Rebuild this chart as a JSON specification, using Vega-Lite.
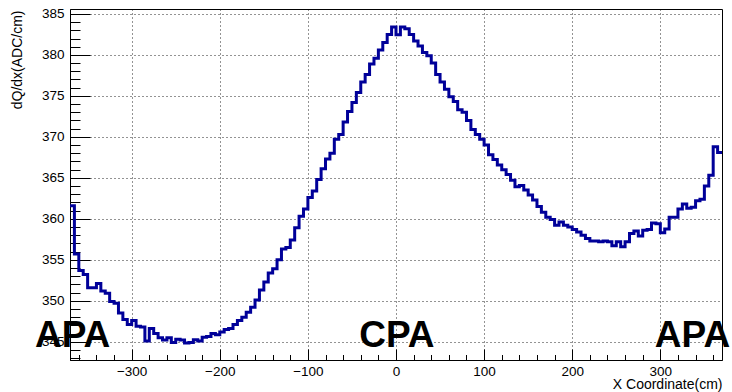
{
  "$schema": "https://vega.github.io/schema/vega-lite/v6.json",
  "width": 652,
  "height": 351,
  "autosize": {"type": "none"},
  "padding": {"left": 70, "top": 9, "right": 10, "bottom": 32},
  "background": "white",
  "config": {
    "view": {"stroke": "#000", "strokeWidth": 1},
    "font": "Liberation Sans",
    "axis": {
      "domainColor": "#000",
      "tickColor": "#000",
      "labelColor": "#000",
      "titleColor": "#000",
      "labelFont": "Liberation Sans",
      "titleFont": "Liberation Sans",
      "gridColor": "#000",
      "gridOpacity": 0.85,
      "gridDash": [1, 3],
      "gridWidth": 1,
      "tickWidth": 1,
      "domainWidth": 1
    }
  },
  "layer": [
    {
      "data": {
        "values": [
          {"x": -370, "v": 361.6}, {"x": -365, "v": 355.7}, {"x": -360, "v": 353.7}, {"x": -355, "v": 353.2},
          {"x": -350, "v": 351.6}, {"x": -345, "v": 351.6}, {"x": -340, "v": 352.1}, {"x": -335, "v": 351.2},
          {"x": -330, "v": 350.9}, {"x": -325, "v": 349.9}, {"x": -320, "v": 349.7}, {"x": -315, "v": 348.5},
          {"x": -310, "v": 347.7}, {"x": -305, "v": 347.1}, {"x": -300, "v": 347.6}, {"x": -295, "v": 346.9},
          {"x": -290, "v": 346.8}, {"x": -285, "v": 345.1}, {"x": -280, "v": 346.6}, {"x": -275, "v": 346.0},
          {"x": -270, "v": 345.5}, {"x": -265, "v": 345.2}, {"x": -260, "v": 345.5}, {"x": -255, "v": 344.9},
          {"x": -250, "v": 345.3}, {"x": -245, "v": 345.2}, {"x": -240, "v": 344.85}, {"x": -235, "v": 344.9},
          {"x": -230, "v": 345.25}, {"x": -225, "v": 345.1}, {"x": -220, "v": 345.55}, {"x": -215, "v": 345.65},
          {"x": -210, "v": 346.0}, {"x": -205, "v": 345.85}, {"x": -200, "v": 346.2}, {"x": -195, "v": 346.5},
          {"x": -190, "v": 346.6}, {"x": -185, "v": 347.1}, {"x": -180, "v": 347.6}, {"x": -175, "v": 348.0},
          {"x": -170, "v": 348.6}, {"x": -165, "v": 349.2}, {"x": -160, "v": 350.1}, {"x": -155, "v": 351.3},
          {"x": -150, "v": 352.3}, {"x": -145, "v": 353.4}, {"x": -140, "v": 353.9}, {"x": -135, "v": 355.0},
          {"x": -130, "v": 356.3}, {"x": -125, "v": 356.5}, {"x": -120, "v": 357.4}, {"x": -115, "v": 358.9},
          {"x": -110, "v": 360.3}, {"x": -105, "v": 361.2}, {"x": -100, "v": 362.6}, {"x": -95, "v": 363.4},
          {"x": -90, "v": 364.8}, {"x": -85, "v": 366.1}, {"x": -80, "v": 367.3}, {"x": -75, "v": 368.0},
          {"x": -70, "v": 369.7}, {"x": -65, "v": 370.3}, {"x": -60, "v": 371.8}, {"x": -55, "v": 373.1},
          {"x": -50, "v": 374.2}, {"x": -45, "v": 375.4}, {"x": -40, "v": 376.7}, {"x": -35, "v": 377.6},
          {"x": -30, "v": 378.9}, {"x": -25, "v": 379.6}, {"x": -20, "v": 380.6}, {"x": -15, "v": 381.5},
          {"x": -10, "v": 382.5}, {"x": -5, "v": 383.4}, {"x": 0, "v": 382.45}, {"x": 5, "v": 383.4},
          {"x": 10, "v": 383.2}, {"x": 15, "v": 382.5}, {"x": 20, "v": 381.7}, {"x": 25, "v": 381.1},
          {"x": 30, "v": 380.3}, {"x": 35, "v": 379.9}, {"x": 40, "v": 379.0}, {"x": 45, "v": 377.6},
          {"x": 50, "v": 376.7}, {"x": 55, "v": 375.8}, {"x": 60, "v": 374.9}, {"x": 65, "v": 374.3},
          {"x": 70, "v": 373.3}, {"x": 75, "v": 373.0}, {"x": 80, "v": 372.0}, {"x": 85, "v": 370.9},
          {"x": 90, "v": 370.3}, {"x": 95, "v": 369.7}, {"x": 100, "v": 369.0}, {"x": 105, "v": 367.8},
          {"x": 110, "v": 367.25}, {"x": 115, "v": 366.55}, {"x": 120, "v": 366.0}, {"x": 125, "v": 365.4},
          {"x": 130, "v": 364.7}, {"x": 135, "v": 363.9}, {"x": 140, "v": 364.05}, {"x": 145, "v": 363.5},
          {"x": 150, "v": 362.9}, {"x": 155, "v": 362.3}, {"x": 160, "v": 361.5}, {"x": 165, "v": 360.8},
          {"x": 170, "v": 360.2}, {"x": 175, "v": 359.9}, {"x": 180, "v": 359.2}, {"x": 185, "v": 359.6},
          {"x": 190, "v": 359.2}, {"x": 195, "v": 359.0}, {"x": 200, "v": 358.7}, {"x": 205, "v": 358.4},
          {"x": 210, "v": 358.0}, {"x": 215, "v": 357.6}, {"x": 220, "v": 357.3}, {"x": 225, "v": 357.3},
          {"x": 230, "v": 357.2}, {"x": 235, "v": 357.3}, {"x": 240, "v": 357.2}, {"x": 245, "v": 356.7},
          {"x": 250, "v": 357.2}, {"x": 255, "v": 356.6}, {"x": 260, "v": 357.2}, {"x": 265, "v": 358.2},
          {"x": 270, "v": 358.5}, {"x": 275, "v": 357.9}, {"x": 280, "v": 358.6}, {"x": 285, "v": 358.7},
          {"x": 290, "v": 359.5}, {"x": 295, "v": 359.4}, {"x": 300, "v": 358.3}, {"x": 305, "v": 358.75},
          {"x": 310, "v": 360.2}, {"x": 315, "v": 360.2}, {"x": 320, "v": 361.2}, {"x": 325, "v": 361.8},
          {"x": 330, "v": 361.3}, {"x": 335, "v": 361.4}, {"x": 340, "v": 362.2}, {"x": 345, "v": 362.4},
          {"x": 350, "v": 364.0}, {"x": 355, "v": 365.3}, {"x": 360, "v": 368.8}, {"x": 365, "v": 368.1},
          {"x": 370, "v": 368.1}
        ]
      },
      "mark": {"type": "line", "interpolate": "step-after", "color": "#000099", "strokeWidth": 3},
      "encoding": {
        "x": {
          "field": "x", "type": "quantitative",
          "scale": {"domain": [-370, 370], "nice": false, "zero": false},
          "axis": {
            "orient": "bottom",
            "values": [-300, -200, -100, 0, 100, 200, 300],
            "format": "d",
            "grid": true,
            "tickSize": -11,
            "labelPadding": 15,
            "labelFontSize": 13.5,
            "title": "X Coordinate(cm)",
            "titleFontSize": 14,
            "titleFontWeight": "normal",
            "titleAlign": "right",
            "titleBaseline": "alphabetic",
            "titleX": 652,
            "titleY": 28
          }
        },
        "y": {
          "field": "v", "type": "quantitative",
          "scale": {"domain": [342.77, 385.6], "nice": false, "zero": false},
          "axis": {
            "orient": "left",
            "values": [345, 350, 355, 360, 365, 370, 375, 380, 385],
            "format": "d",
            "grid": true,
            "tickSize": -20,
            "labelPadding": 26,
            "labelFontSize": 13.5,
            "title": "dQ/dx(ADC/cm)",
            "titleFontSize": 14,
            "titleFontWeight": "normal",
            "titleAngle": -90,
            "titleAlign": "right",
            "titleBaseline": "middle",
            "titleX": -53,
            "titleY": 1
          }
        }
      }
    },
    {
      "data": {
        "values": [
          {"label": "APA", "x": -367, "y": 344.35},
          {"label": "CPA", "x": 1, "y": 344.35},
          {"label": "APA", "x": 336.5, "y": 344.35}
        ]
      },
      "mark": {"type": "text", "font": "Liberation Sans", "fontSize": 37, "fontWeight": "bold", "align": "center", "baseline": "alphabetic", "color": "#000"},
      "encoding": {
        "x": {
          "field": "x", "type": "quantitative",
          "scale": {"domain": [-370, 370], "nice": false, "zero": false},
          "axis": {
            "orient": "bottom",
            "values": [-360, -340, -320, -300, -280, -260, -240, -220, -200, -180, -160, -140, -120, -100, -80, -60, -40, -20, 0, 20, 40, 60, 80, 100, 120, 140, 160, 180, 200, 220, 240, 260, 280, 300, 320, 340, 360],
            "grid": false, "domain": false, "labels": false,
            "tickSize": -5.5,
            "title": null
          }
        },
        "y": {
          "field": "y", "type": "quantitative",
          "scale": {"domain": [342.77, 385.6], "nice": false, "zero": false},
          "axis": {
            "orient": "left",
            "values": [343, 344, 345, 346, 347, 348, 349, 350, 351, 352, 353, 354, 355, 356, 357, 358, 359, 360, 361, 362, 363, 364, 365, 366, 367, 368, 369, 370, 371, 372, 373, 374, 375, 376, 377, 378, 379, 380, 381, 382, 383, 384, 385],
            "grid": false, "domain": false, "labels": false,
            "tickSize": -10,
            "title": null
          }
        },
        "text": {"field": "label"}
      }
    }
  ],
  "resolve": {"axis": {"x": "independent", "y": "independent"}}
}
